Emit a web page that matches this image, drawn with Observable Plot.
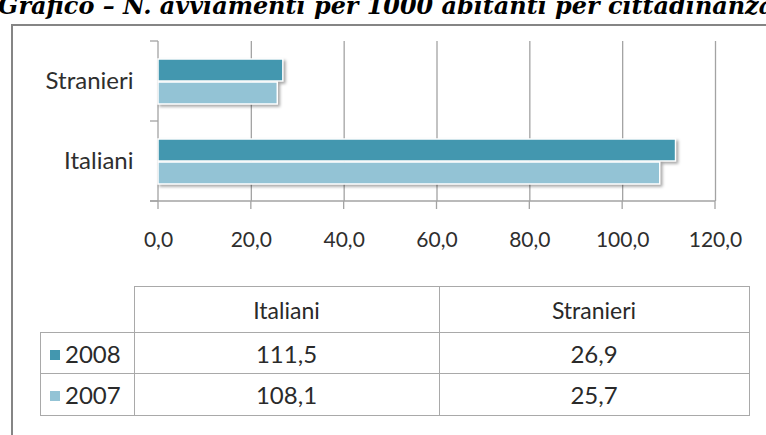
<!DOCTYPE html>
<html>
<head>
<meta charset="utf-8">
<script src="https://cdn.jsdelivr.net/npm/d3@7"></script>
<script src="https://cdn.jsdelivr.net/npm/@observablehq/plot@0.6"></script>
<style>
  html, body { margin: 0; padding: 0; background: #fff; }
  body { width: 766px; height: 435px; position: relative; overflow: hidden; font-family: Lato, "Open Sans", sans-serif; }
  #title { position: absolute; left: 0; top: 0; }
  #box { position: absolute; left: 11px; top: 24px; width: 900px; height: 600px; border-left: 2.5px solid #858585; border-top: 2.5px solid #858585; }
  #chart { position: absolute; left: 0; top: 0; }
  #table { position: absolute; left: 40px; top: 286px; border-collapse: collapse; font-family: Lato, sans-serif; font-size: 24px; color: #2a2a2a; }
  #table td { border: 1.5px solid #a9a9a9; text-align: center; padding: 0; }
  #table td.corner { border-top: none; border-left: none; }
  #table td.rowlab { text-align: left; padding-left: 9px; white-space: nowrap; }
  #table tr.head td { font-size: 23px; }
  .sw { display: inline-block; width: 10px; height: 10px; margin-right: 5px; vertical-align: 3px; }
</style>
</head>
<body>
<svg id="title" width="766" height="30"></svg>
<div id="box"></div>
<div id="chart"></div>
<table id="table"></table>
<script>
const titleText = "Grafico – N. avviamenti per 1000 abitanti per cittadinanza";
const categories = ["Stranieri", "Italiani"];
const years = ["2008", "2007"];
const values2008 = [26.9, 111.5];
const values2007 = [25.7, 108.1];
const xTicks = [0, 20, 40, 60, 80, 100, 120];
const tableColumns = ["Italiani", "Stranieri"];
const colors = ["#4397AF", "#93C3D5"];

// title, sized so that "...cittadinanz" reaches the right edge
const tsvg = d3.select("#title");
const ttext = tsvg.append("text")
  .attr("x", -2).attr("y", 14)
  .attr("font-family", "'DejaVu Serif', serif")
  .attr("font-weight", "bold").attr("font-style", "italic")
  .attr("font-size", 20).attr("fill", "#000")
  .text(titleText.slice(0, -1));
const w20 = ttext.node().getComputedTextLength();
ttext.attr("font-size", 20 * 761 / w20).text(titleText);

const fmt = v => v.toFixed(1).replace(".", ",");

const rows = [];
categories.forEach((c, i) => {
  rows.push({cat: c, year: years[0], value: values2008[i]});
  rows.push({cat: c, year: years[1], value: values2007[i]});
});

const gray = "#a3a3a3";

function decorations(index, scales, values, dimensions) {
  const {width, height, marginLeft, marginRight, marginTop, marginBottom} = dimensions;
  const x = scales && scales.x ? scales.x : d3.scaleLinear([0, 120], [marginLeft, width - marginRight]);
  const g = d3.create("svg:g").attr("stroke", gray).attr("stroke-width", 1.3).attr("fill", "none");
  const bottom = height - marginBottom;
  g.append("line").attr("x1", marginLeft - 8).attr("x2", x(xTicks[xTicks.length - 1])).attr("y1", bottom).attr("y2", bottom);
  g.append("line").attr("x1", marginLeft).attr("x2", marginLeft).attr("y1", marginTop).attr("y2", bottom);
  for (const t of xTicks) g.append("line").attr("x1", x(t)).attr("x2", x(t)).attr("y1", bottom).attr("y2", bottom + 8);
  const n = categories.length;
  for (let i = 0; i <= n; i++) {
    const yy = marginTop + i * (bottom - marginTop) / n;
    g.append("line").attr("x1", marginLeft - 8).attr("x2", marginLeft).attr("y1", yy).attr("y2", yy);
  }
  return g.node();
}

const chart = Plot.plot({
  width: 766,
  height: 270,
  marginLeft: 158,
  marginRight: 51,
  marginTop: 41,
  marginBottom: 69,
  x: {domain: [0, 120], ticks: xTicks, tickFormat: fmt, tickSize: 0, tickPadding: 31, label: null},
  y: {domain: categories, padding: 0, tickSize: 0, tickPadding: 25, label: null},
  color: {domain: years, range: colors},
  style: {fontFamily: "Lato, sans-serif", fontSize: "21px", color: "#2e2e2e", background: "transparent", overflow: "visible"},
  marks: [
    Plot.ruleX(xTicks.slice(1), {stroke: gray, strokeWidth: 1.3}),
    decorations,
    Plot.barX(rows.filter(d => d.year === years[0]), {x: "value", y: "cat", fill: "year", stroke: "white", strokeWidth: 1.5, insetTop: 18, insetBottom: 40}),
    Plot.barX(rows.filter(d => d.year === years[1]), {x: "value", y: "cat", fill: "year", stroke: "white", strokeWidth: 1.5, insetTop: 41, insetBottom: 17})
  ]
});
d3.select(chart).selectAll('g[aria-label="bar"]').style("filter", "drop-shadow(2px 2px 1.5px rgba(0,0,0,0.35))");
d3.select(chart).selectAll('g[aria-label="y-axis tick label"] text, g[aria-label="y-axis"] text').style("font-size", "24px");
document.getElementById("chart").appendChild(chart);

// data table
const table = d3.select("#table");
const colW = [93, 304, 309];
const head = table.append("tr").attr("class", "head").style("height", "46px");
head.append("td").attr("class", "corner").style("width", colW[0] + "px");
tableColumns.forEach((c, j) => head.append("td").style("width", colW[j + 1] + "px").text(c));
const series = [values2008, values2007];
years.forEach((y, k) => {
  const tr = table.append("tr").style("height", k === 0 ? "41px" : "42px");
  const lab = tr.append("td").attr("class", "rowlab");
  lab.append("span").attr("class", "sw").style("background", colors[k]);
  lab.append("span").text(y);
  tableColumns.forEach(c => {
    const i = categories.indexOf(c);
    tr.append("td").text(fmt(series[k][i]));
  });
});
</script>
</body>
</html>
